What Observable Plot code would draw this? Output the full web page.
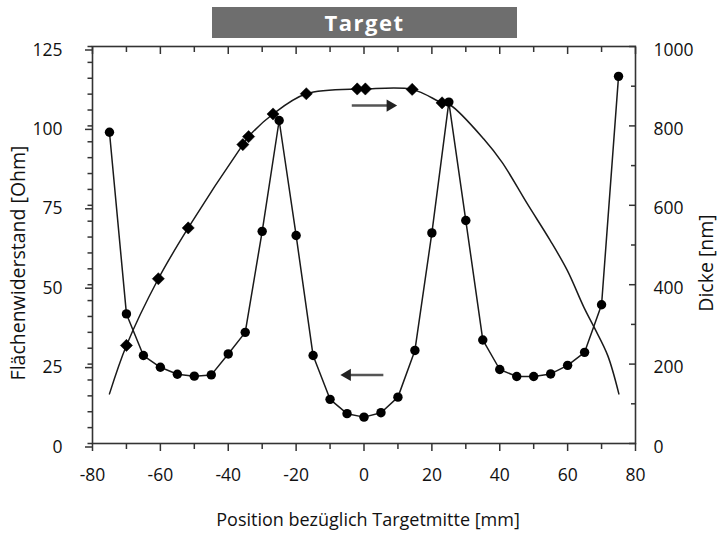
<!DOCTYPE html>
<html>
<head>
<meta charset="utf-8">
<script src="https://cdn.jsdelivr.net/npm/d3@7"></script>
<script src="https://cdn.jsdelivr.net/npm/@observablehq/plot@0.6"></script>
<style>
  html, body { margin: 0; padding: 0; background: #fff; }
  #wrap { position: relative; width: 719px; height: 533px; }
  #title {
    position: absolute; left: 212px; top: 7px; width: 305px; height: 31px;
    background: #6e6e6e; color: #fff; font: bold 22px "Open Sans", sans-serif;
    letter-spacing: 1.5px; text-align: center; line-height: 31px;
  }
  svg { font-family: "Open Sans", sans-serif; }
</style>
</head>
<body>
<div id="wrap"><div id="title">Target</div></div>
<script>
// Sheet resistance (left axis, Ohm) measured every 5 mm
const positions = [-75,-70,-65,-60,-55,-50,-45,-40,-35,-30,-25,-20,-15,-10,-5,0,5,10,15,20,25,30,35,40,45,50,55,60,65,70,75];
const resistance = [98.0,40.8,27.7,24.0,21.8,21.2,21.6,28.2,35.0,66.8,101.7,65.5,27.7,13.9,9.4,8.3,9.7,14.6,29.3,66.3,107.5,70.2,32.6,23.3,21.1,21.1,21.9,24.6,28.7,43.7,115.6];

// Thickness measurements (right axis, nm)
const thickPos = [-70,-60.6,-51.8,-35.7,-34,-26.8,-17,-2,0.4,14.2,23];
const thickNm = [247,415,543,753,773,830,881,893,893,892,858];

// Thickness fit curve (right axis, nm)
const fitPos = [-75,-70,-60.6,-51.8,-35.7,-34,-26.8,-17,-2,0.4,14.2,23,25.5,35.3,40.7,48.1,54.9,59.9,64.8,67.8,71.8,75.1];
const fitNm = [125,247,415,543,753,773,830,881,893,893,892,858,852,767,708,604,511,436,343,293,222,125];

// Direction arrows: [x start, x end, y (left-axis units)]
const arrowX1 = [-3.6, 5.7];
const arrowX2 = [7.7, -4.9];
const arrowY = [106.4, 21.6];

const leftTicks = [0,25,50,75,100,125];
const rightTickLabels = [0,200,400,600,800,1000];
const xTicks = [-80,-60,-40,-20,0,20,40,60,80];

const xTitle = "Position bezüglich Targetmitte [mm]";
const yLeftTitle = "Flächenwiderstand [Ohm]";
const yRightTitle = "Dicke [nm]";

const k = 8; // nm per Ohm unit on the shared y scale
const resData = positions.map((x,i) => ({x, y: resistance[i]}));
const thickData = thickPos.map((x,i) => ({x, nm: thickNm[i]}));
const fitData = fitPos.map((x,i) => ({x, nm: fitNm[i]}));
const arrows = arrowX1.map((x1,i) => ({x1, x2: arrowX2[i], y: arrowY[i], rot: arrowX2[i] > x1 ? 90 : -90}));

const ink = "#1a1a1a";
const axisInk = "#333";
const tickFs = 17.5;

const chart = Plot.plot({
  width: 719, height: 533,
  marginTop: 46, marginRight: 84, marginBottom: 90, marginLeft: 92,
  style: {fontFamily: "Open Sans, sans-serif", fontSize: "16px", color: "#111"},
  x: {domain: [-80, 80]},
  y: {domain: [0, 125]},
  marks: [
    // bottom axis
    Plot.axisX({anchor: "bottom", ticks: xTicks, tickSize: 8, tickPadding: 17, stroke: axisInk, strokeWidth: 1.5,
      tickFormat: d => String(d), label: null, fontSize: tickFs}),
    Plot.axisX({anchor: "bottom", ticks: d3.range(-70, 80, 20), tickSize: 6, tickFormat: () => "", label: null, stroke: axisInk, strokeWidth: 1.5}),
    // top inward ticks
    Plot.axisX({anchor: "top", ticks: xTicks, tickSize: -7, tickFormat: () => "", label: null, stroke: axisInk, strokeWidth: 1.5}),
    Plot.axisX({anchor: "top", ticks: d3.range(-70, 80, 20), tickSize: -5, tickFormat: () => "", label: null, stroke: axisInk, strokeWidth: 1.5}),
    // left axis
    Plot.axisY({anchor: "left", ticks: leftTicks, tickSize: 7, tickPadding: 23, stroke: axisInk, strokeWidth: 1.5,
      label: null, fontSize: tickFs, dy: 3.5}),
    Plot.axisY({anchor: "left", ticks: d3.range(0, 126, 5), tickSize: 4.5, tickFormat: () => "", label: null, stroke: axisInk, strokeWidth: 1.5}),
    // right axis (nm), inward ticks
    Plot.axisY({anchor: "right", ticks: rightTickLabels.map(v => v / k), tickSize: -7, tickFormat: () => "", label: null, stroke: axisInk, strokeWidth: 1.5}),
    Plot.axisY({anchor: "right", ticks: [100,300,500,700,900].map(v => v / k), tickSize: -5, tickFormat: () => "", label: null, stroke: axisInk, strokeWidth: 1.5}),
    Plot.axisY({anchor: "right", ticks: rightTickLabels.map(v => v / k), tickSize: 0, tickPadding: 18, tickFormat: d => String(Math.round(d * k)),
      label: null, fontSize: tickFs, dy: 3.5}),
    // axis titles
    Plot.text([xTitle], {frameAnchor: "bottom", text: d => d, textAnchor: "middle", dx: 4, dy: 82, fontSize: 18, fill: "#111"}),
    Plot.text([yLeftTitle], {frameAnchor: "left", text: d => d, textAnchor: "middle", dx: -74, dy: 18, rotate: -90, fontSize: 19.5, fill: "#111"}),
    Plot.text([yRightTitle], {frameAnchor: "right", text: d => d, textAnchor: "middle", dx: 71, dy: 18, rotate: -90, fontSize: 19.5, fill: "#111"}),
    Plot.frame({stroke: axisInk, strokeWidth: 1.6}),
    // thickness fit curve
    Plot.line(fitData, {x: "x", y: d => d.nm / k, curve: "catmull-rom", stroke: ink, strokeWidth: 1.5}),
    // resistance polyline + dots
    Plot.line(resData, {x: "x", y: "y", stroke: ink, strokeWidth: 1.5}),
    Plot.dot(resData, {x: "x", y: "y", r: 4.7, fill: "#000", stroke: "none"}),
    // thickness diamonds
    Plot.dot(thickData, {x: "x", y: d => d.nm / k, symbol: "diamond2", r: 5.5, fill: "#000", stroke: "#000", strokeWidth: 0.5}),
    // arrows
    Plot.link(arrows, {x1: "x1", x2: "x2", y1: "y", y2: "y", stroke: "#555", strokeWidth: 2.5}),
    Plot.dot(arrows, {x: "x2", y: "y", symbol: "triangle", r: 4.5, rotate: "rot", fill: "#222", stroke: "none"})
  ]
});
document.getElementById("wrap").appendChild(chart);
</script>
</body>
</html>
